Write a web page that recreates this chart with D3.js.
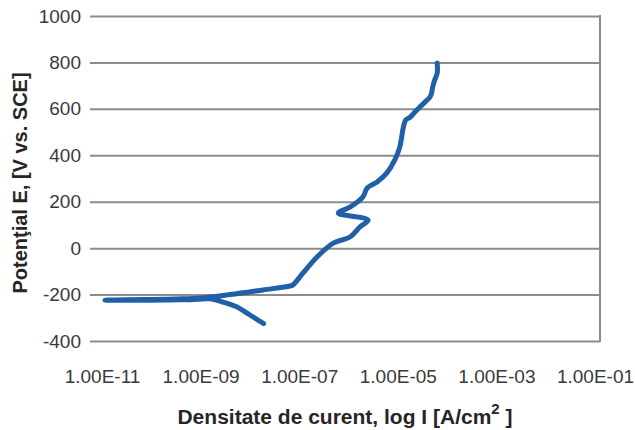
<!DOCTYPE html>
<html>
<head>
<meta charset="utf-8">
<script src="https://cdn.jsdelivr.net/npm/d3@7"></script>
<style>
  html, body { margin: 0; padding: 0; background: #fff; }
  svg { display: block; font-family: "Liberation Sans", Arial, sans-serif; }
</style>
</head>
<body>
<svg id="chart" width="635" height="430"></svg>
<script>
// Polarisation curve: current density (A/cm²) and potential (mV vs. SCE), in scan order
const currentDensity = [
  1.9e-8, 1.8e-8, 1.0e-8, 5.5e-9, 2.8e-9, 1.55e-9, 6.3e-10, 2.5e-10, 1.0e-10, 3.2e-11, 1.15e-11,
  3.2e-11, 1.0e-10, 3.2e-10, 1.0e-9, 4.0e-9, 1.85e-8, 6.5e-8, 7.4e-8, 1.2e-7, 2.3e-7, 4.9e-7,
  1.07e-6, 1.7e-6, 2.5e-6, 6.2e-7, 1.07e-6, 1.95e-6, 2.4e-6, 3.8e-6, 6.0e-6, 8.7e-6, 1.1e-5,
  1.2e-5, 1.3e-5, 1.45e-5, 1.8e-5, 2.2e-5, 2.8e-5, 3.6e-5, 4.5e-5, 4.9e-5, 5.1e-5, 5.6e-5,
  6.3e-5, 6.3e-5
];
const potential = [
  -325, -322, -288, -254, -232, -218, -222, -223, -224, -224, -224,
  -222, -221, -219, -215, -200, -180, -163, -159, -107, -38, 22,
  48, 91, 121, 151, 177, 220, 259, 285, 324, 380, 436,
  479, 522, 552, 565, 585, 608, 630, 651, 673, 694, 724,
  754, 798
];

const xTicks = [1e-11, 1e-9, 1e-7, 1e-5, 1e-3, 1e-1];
const yTicks = [-400, -200, 0, 200, 400, 600, 800, 1000];

const plot = { left: 90, right: 600, top: 16, bottom: 341 };

const svg = d3.select("#chart");

const x = d3.scaleLog().domain([1e-11, 1e-1]).range([102, 595]);
const y = d3.scaleLinear().domain([-400, 1000]).range([plot.bottom, plot.top]);

// Spreadsheet-style scientific label: 1.00E-09
const sci = d => {
  const [m, e] = d.toExponential(2).split("e");
  const sign = e[0] === "-" ? "-" : "+";
  const digits = e.replace(/[+-]/, "").padStart(2, "0");
  return `${m}E${sign}${digits}`;
};

// Horizontal gridlines with the potential labels
const yAxis = svg.append("g")
  .attr("transform", `translate(${plot.left},0)`)
  .call(d3.axisLeft(y).tickValues(yTicks)
    .tickSize(-(plot.right - plot.left)).tickPadding(9).tickFormat(d => String(d)));
yAxis.select(".domain").remove();
yAxis.selectAll(".tick line").attr("stroke", "#8c8c8c").attr("stroke-width", 2);
yAxis.selectAll(".tick text")
  .attr("font-size", 19).attr("fill", "#3a3a3a")
  .attr("font-family", "'Liberation Sans', Arial, sans-serif");

// Right frame edge
svg.append("line")
  .attr("x1", plot.right).attr("x2", plot.right)
  .attr("y1", y(1000) - 1).attr("y2", y(-400) + 1)
  .attr("stroke", "#8c8c8c").attr("stroke-width", 2);

// Current density labels
const xAxis = svg.append("g")
  .attr("transform", `translate(0,${plot.bottom})`)
  .call(d3.axisBottom(x).tickValues(xTicks).tickSize(0).tickPadding(28.5).tickFormat(sci));
xAxis.select(".domain").remove();
xAxis.selectAll(".tick text")
  .attr("font-size", 19).attr("fill", "#3a3a3a")
  .attr("font-family", "'Liberation Sans', Arial, sans-serif");

// Polarisation curve
const pts = currentDensity.map((c, i) => [c, potential[i]]);
const line = d3.line().x(d => x(d[0])).y(d => y(d[1])).curve(d3.curveCatmullRom.alpha(0.5));
svg.append("path")
  .datum(pts)
  .attr("d", line)
  .attr("fill", "none")
  .attr("stroke", "#2160a8")
  .attr("stroke-width", 5)
  .attr("stroke-linejoin", "round")
  .attr("stroke-linecap", "round");

// Axis titles
const xTitle = svg.append("text")
  .attr("x", 345).attr("y", 424)
  .attr("text-anchor", "middle")
  .attr("font-size", 21).attr("font-weight", "bold").attr("fill", "#262626");
xTitle.append("tspan").text("Densitate de curent, log I [A/cm");
xTitle.append("tspan").attr("font-size", 15).attr("dy", -10).text("2");
xTitle.append("tspan").attr("dy", 10).text(" ]");

svg.append("text")
  .attr("transform", "translate(27,183) rotate(-90)")
  .attr("text-anchor", "middle")
  .attr("font-size", 20).attr("font-weight", "bold").attr("fill", "#262626")
  .text("Potenţial E, [V vs. SCE]");
</script>
</body>
</html>
